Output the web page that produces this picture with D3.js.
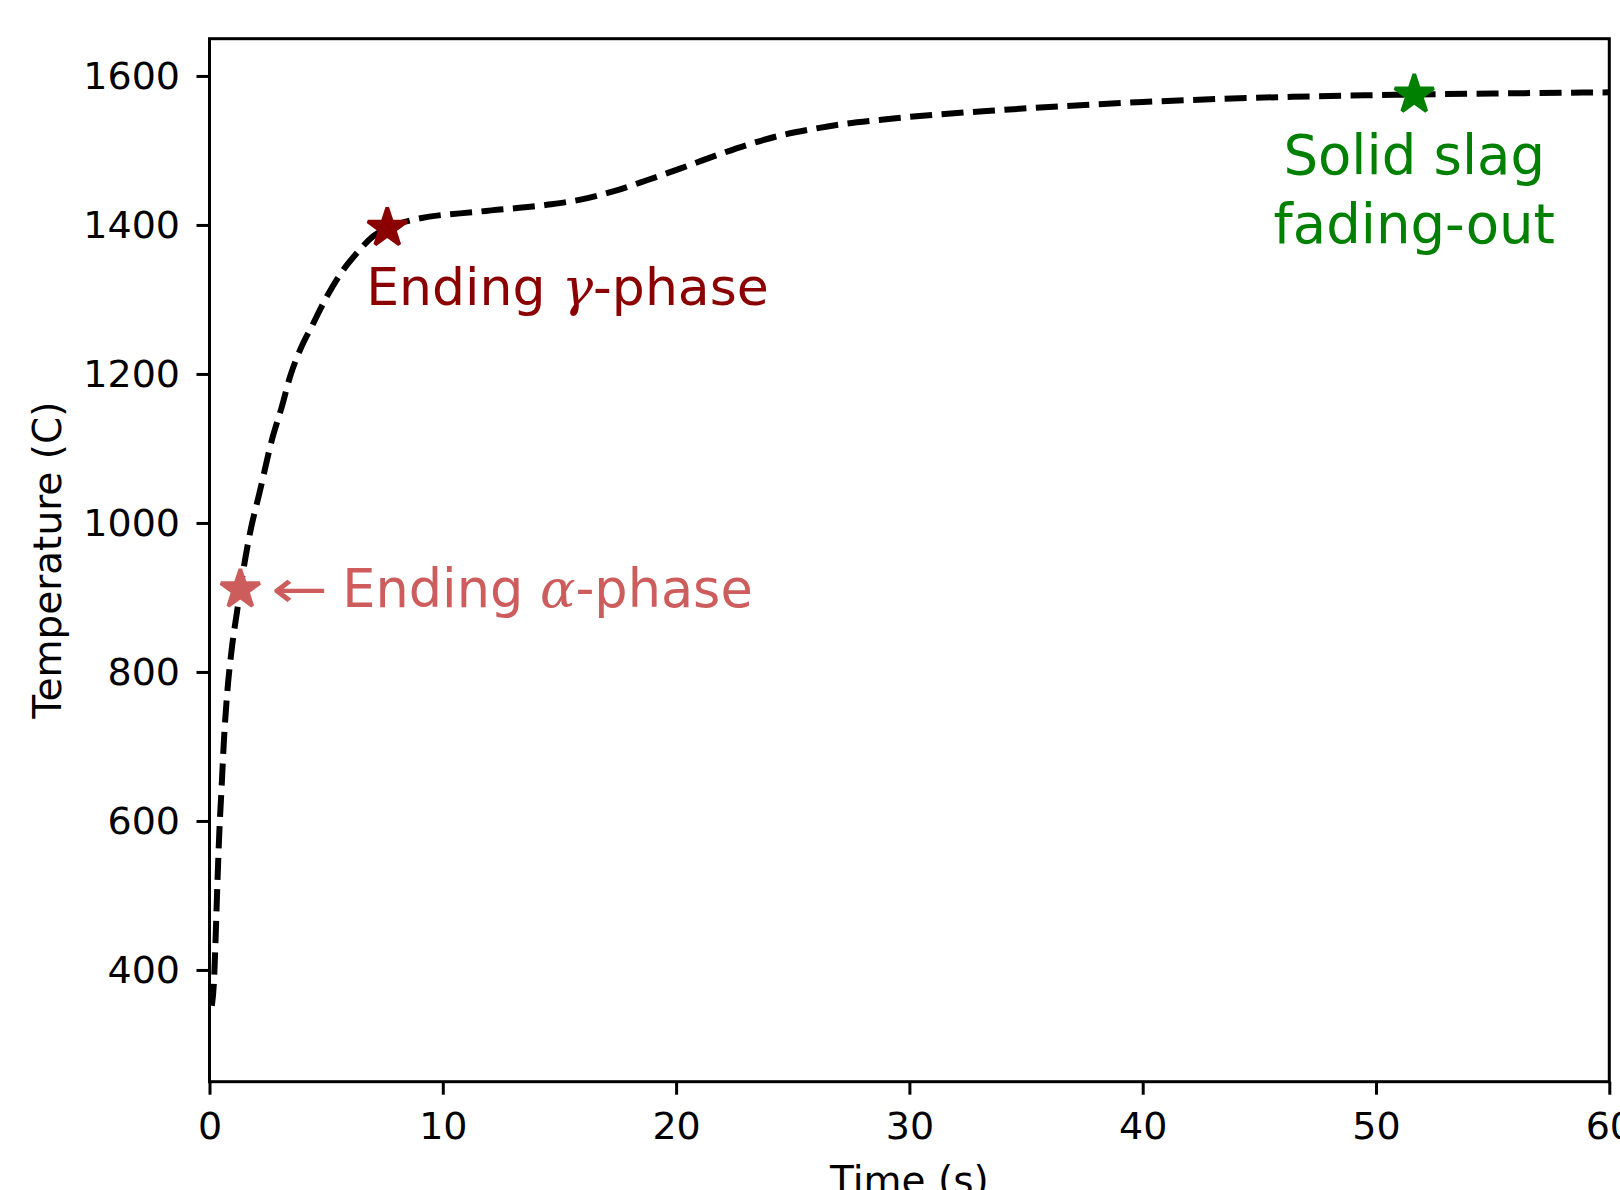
<!DOCTYPE html>
<html>
<head>
<meta charset="utf-8">
<script src="https://cdn.jsdelivr.net/npm/d3@7/dist/d3.min.js"></script>
<style>
  body { margin: 0; background: #fff; }
  svg text { font-family: "DejaVu Sans", sans-serif; }
  .math { font-family: "DejaVu Serif", serif; font-style: italic; }
</style>
</head>
<body>
<svg id="chart" width="1620" height="1190"></svg>
<script>
// heating curve
const timeS = [0.10, 0.20, 0.24, 0.34, 0.42, 0.52, 0.62, 0.76, 0.95, 1.19, 1.32, 1.74, 2.17, 2.67, 3.10, 3.45, 3.88, 4.45, 5.03, 5.74, 6.31, 7.02, 7.62,
  8.74, 11.6, 14.46, 15.9, 17.3, 18.75, 20.2, 21.6, 23.0, 24.46, 25.9, 27.3, 28.75, 30, 33.8, 40, 46.4, 51.64, 60];
const tempC = [352, 390, 423, 517, 584, 646, 709, 772, 830, 883, 911, 987, 1044, 1111, 1156, 1196, 1232, 1268, 1304, 1340, 1362, 1385, 1396,
  1407, 1418, 1427, 1434, 1445, 1460, 1476, 1492, 1507, 1520, 1529, 1536, 1541, 1545, 1554, 1565, 1572, 1575, 1578];

// the three marked points
const markTime = [1.32, 7.62, 51.64];
const markTemp = [910.7, 1396, 1575];

const xTicks = [0, 10, 20, 30, 40, 50, 60];
const yTicks = [400, 600, 800, 1000, 1200, 1400, 1600];

const width = 1620, height = 1190;
const margin = { top: 38.7, left: 209.5, right: 10.7, bottom: 108.3 };

const svg = d3.select("#chart");

const x = d3.scaleLinear().domain([0, 60]).range([margin.left, width - margin.right]);
const y = d3.scaleLinear().domain([250, 1650]).range([height - margin.bottom, margin.top]);

svg.append("clipPath").attr("id", "plot")
  .append("rect")
  .attr("x", x.range()[0]).attr("y", y.range()[1])
  .attr("width", x.range()[1] - x.range()[0])
  .attr("height", y.range()[0] - y.range()[1]);

const line = d3.line()
  .x(d => x(d[0]))
  .y(d => y(d[1]))
  .curve(d3.curveMonotoneX);

svg.append("path")
  .datum(d3.zip(timeS, tempC))
  .attr("clip-path", "url(#plot)")
  .attr("fill", "none")
  .attr("stroke", "#000")
  .attr("stroke-width", 6)
  .attr("stroke-dasharray", "22 9.5")
  .attr("d", line);

// axes
const gx = svg.append("g")
  .attr("transform", `translate(0,${y.range()[0]})`)
  .call(d3.axisBottom(x).tickValues(xTicks).tickFormat(d3.format("d"))
    .tickSize(13).tickPadding(17).tickSizeOuter(0));
const gy = svg.append("g")
  .attr("transform", `translate(${x.range()[0]},0)`)
  .call(d3.axisLeft(y).tickValues(yTicks).tickFormat(d3.format("d"))
    .tickSize(13).tickPadding(16.5).tickSizeOuter(0));

[gx, gy].forEach(g => {
  g.select(".domain").remove();
  g.attr("font-family", null).attr("font-size", null);
  g.selectAll(".tick line").attr("stroke", "#000").attr("stroke-width", 3);
  g.selectAll(".tick text").attr("fill", "#000").style("font-size", "38px");
});

svg.append("rect")
  .attr("x", x.range()[0]).attr("y", y.range()[1])
  .attr("width", x.range()[1] - x.range()[0])
  .attr("height", y.range()[0] - y.range()[1])
  .attr("fill", "none")
  .attr("stroke", "#000")
  .attr("stroke-width", 3);

svg.append("text")
  .attr("x", (x.range()[0] + x.range()[1]) / 2)
  .attr("y", 1193.5)
  .attr("text-anchor", "middle")
  .style("font-size", "39px")
  .text("Time (s)");

svg.append("text")
  .attr("transform", `translate(61,${(y.range()[0] + y.range()[1]) / 2}) rotate(-90)`)
  .attr("text-anchor", "middle")
  .style("font-size", "39px")
  .text("Temperature (C)");

// stars (matplotlib-style: filled with a thin bevelled edge of the same colour)
const star = d3.symbol().type(d3.symbolStar).size(470);
const starColors = ["#cd5c5c", "#8b0000", "#008000"];
svg.selectAll(".star")
  .data(d3.zip(markTime, markTemp))
  .join("path")
  .attr("class", "star")
  .attr("transform", d => `translate(${x(d[0])},${y(d[1])})`)
  .attr("fill", (d, i) => starColors[i])
  .attr("stroke", (d, i) => starColors[i])
  .attr("stroke-width", 3.7)
  .attr("stroke-linejoin", "bevel")
  .attr("d", star);

// annotations
svg.append("text")
  .attr("x", x(markTime[0]) + 30.4)
  .attr("y", y(markTemp[0]) + 17.5)
  .attr("fill", "#cd5c5c")
  .attr("textLength", 57)
  .attr("lengthAdjust", "spacingAndGlyphs")
  .style("font-size", "52px")
  .text("\u2190");

const ta = svg.append("text")
  .attr("x", x(markTime[0]) + 102)
  .attr("y", y(markTemp[0]) + 17.5)
  .attr("fill", "#cd5c5c")
  .style("font-size", "52.5px");
ta.append("tspan").text("Ending ");
ta.append("tspan").attr("class", "math").text("\u03b1");
ta.append("tspan").text("-phase");

const tg = svg.append("text")
  .attr("x", x(markTime[1]) - 21)
  .attr("y", y(markTemp[1]) + 77)
  .attr("fill", "#8b0000")
  .style("font-size", "52px");
tg.append("tspan").text("Ending ");
tg.append("tspan").attr("class", "math").text("\u03b3");
tg.append("tspan").text("-phase");

const ts = svg.append("text")
  .attr("text-anchor", "middle")
  .attr("fill", "#008000")
  .style("font-size", "54.5px");
ts.append("tspan").attr("x", x(markTime[2])).attr("y", y(markTemp[2]) + 79.5).text("Solid slag");
ts.append("tspan").attr("x", x(markTime[2])).attr("y", y(markTemp[2]) + 148.8).text("fading-out");
</script>
</body>
</html>
